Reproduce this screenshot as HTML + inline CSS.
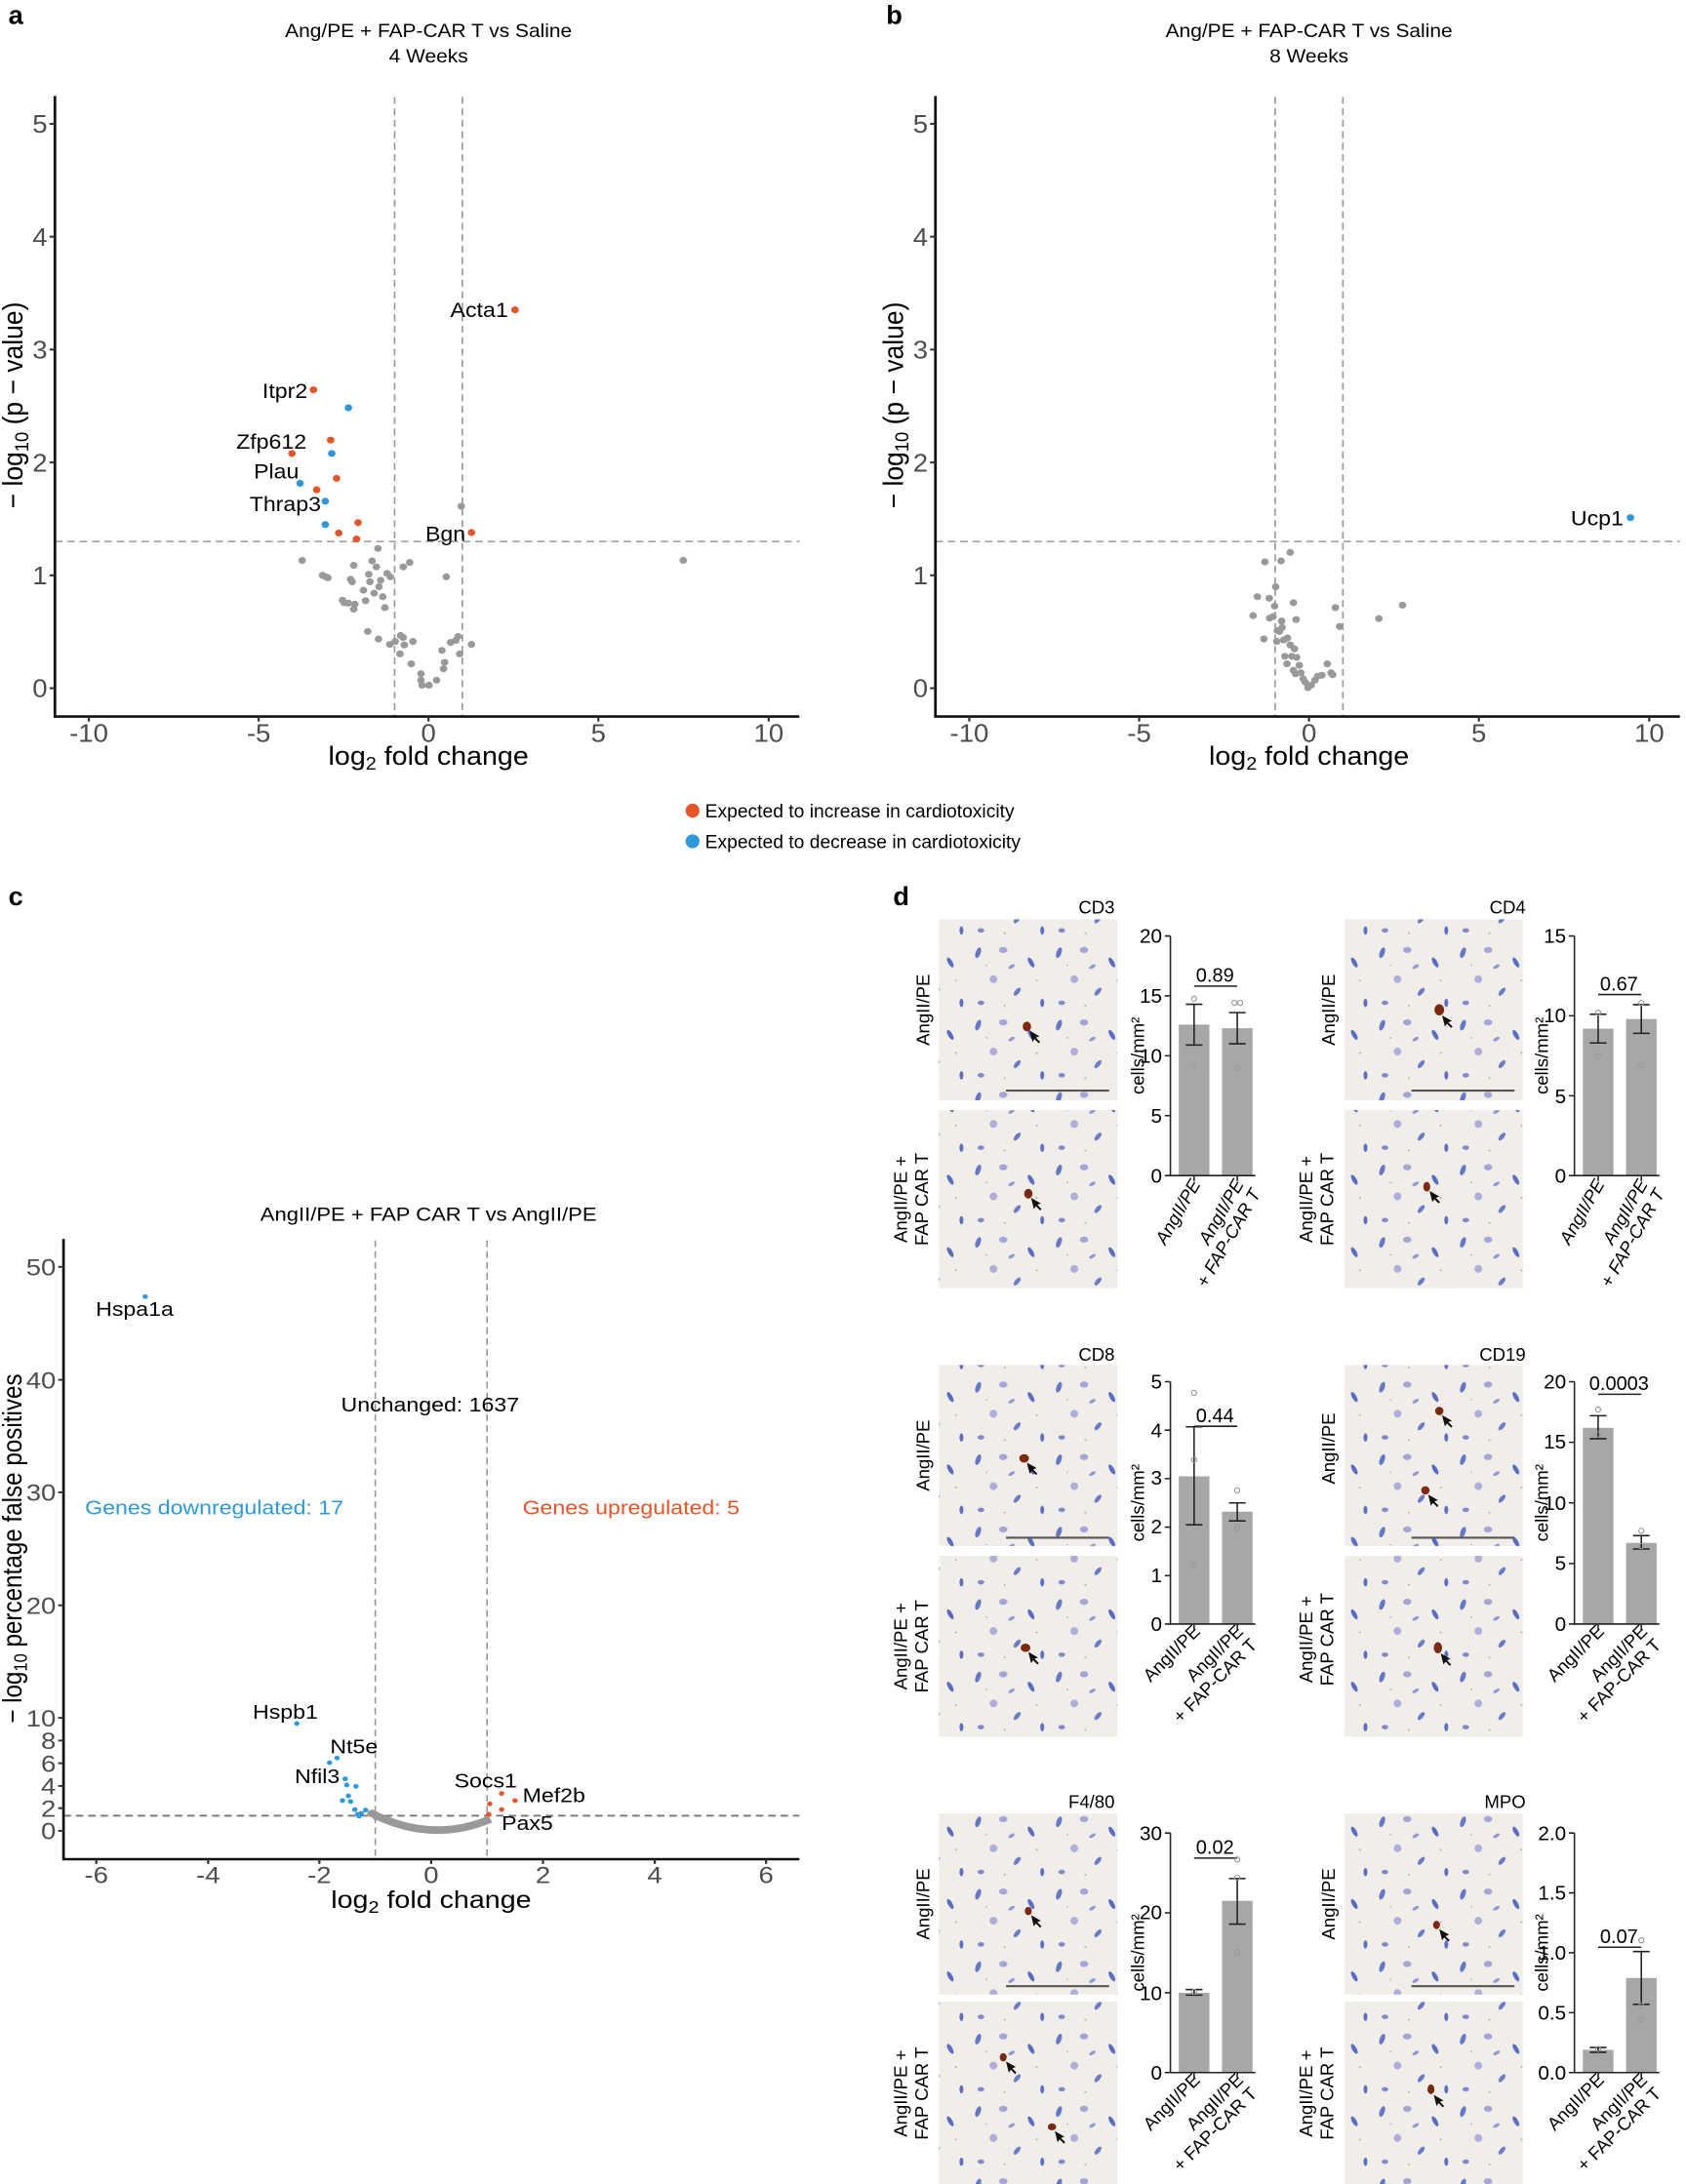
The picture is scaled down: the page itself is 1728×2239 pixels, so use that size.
<!DOCTYPE html>
<html><head><meta charset="utf-8">
<style>
html,body{margin:0;padding:0;background:#fff}
svg{display:block}
text{font-family:"Liberation Sans",sans-serif}
</style></head>
<body>
<svg width="1728" height="2239" viewBox="0 0 1210 1568" xmlns="http://www.w3.org/2000/svg">
<defs>
<pattern id="hp" width="58" height="52" patternUnits="userSpaceOnUse">
<rect width="58" height="52" fill="#f1eeea"/>
<ellipse cx="6" cy="8" rx="1.8" ry="4" fill="#6677c4" transform="rotate(20 6 8)"/>
<ellipse cx="24" cy="6" rx="3" ry="2.2" fill="#a3a6d4"/>
<ellipse cx="44" cy="15" rx="1.6" ry="4" fill="#5a6cbf" transform="rotate(-30 44 15)"/>
<ellipse cx="17" cy="27" rx="2.8" ry="2.8" fill="#aeaed8"/>
<ellipse cx="34" cy="36" rx="1.6" ry="3.5" fill="#6a7ac6" transform="rotate(40 34 36)"/>
<ellipse cx="8" cy="44" rx="2.4" ry="1.6" fill="#8088c8"/>
<ellipse cx="52" cy="44" rx="1.4" ry="3" fill="#5d6ebf"/>
<ellipse cx="30" cy="18" rx="1.2" ry="2.6" fill="#8f98d0" transform="rotate(60 30 18)"/>
<circle cx="25" cy="46" r="0.7" fill="#c3aaa0"/>
<circle cx="48" cy="28" r="0.7" fill="#c3aaa0"/>
<circle cx="12" cy="17" r="0.6" fill="#c3aaa0"/>
</pattern>
</defs>

<!-- Panel a -->
<text x="6" y="17" font-size="19" font-weight="bold">a</text>
<g transform="matrix(0.3858,0,0,0.357,0,0)">
 <text x="797" y="75" font-size="38" text-anchor="middle">Ang/PE + FAP-CAR T vs Saline</text>
 <text x="797" y="126" font-size="38" text-anchor="middle">4 Weeks</text>
 <g stroke="#999" stroke-width="3" stroke-dasharray="14,9" fill="none">
  <line x1="734" y1="195" x2="734" y2="1441"/><line x1="860" y1="195" x2="860" y2="1441"/>
  <line x1="102" y1="1089" x2="1487" y2="1089"/>
 </g>
 <path d="M102 193 V1441 H1487" fill="none" stroke="#111" stroke-width="5"/>
 <g stroke="#333" stroke-width="4">
  <line x1="92" y1="1384" x2="102" y2="1384"/><line x1="92" y1="1157" x2="102" y2="1157"/><line x1="92" y1="930" x2="102" y2="930"/><line x1="92" y1="703" x2="102" y2="703"/><line x1="92" y1="476" x2="102" y2="476"/><line x1="92" y1="249" x2="102" y2="249"/>
  <line x1="165" y1="1441" x2="165" y2="1451"/><line x1="481" y1="1441" x2="481" y2="1451"/><line x1="797" y1="1441" x2="797" y2="1451"/><line x1="1113" y1="1441" x2="1113" y2="1451"/><line x1="1430" y1="1441" x2="1430" y2="1451"/>
 </g>
 <g font-size="50" fill="#4d4d4d" text-anchor="end">
  <text x="88" y="1402">0</text><text x="88" y="1175">1</text><text x="88" y="948">2</text><text x="88" y="721">3</text><text x="88" y="494">4</text><text x="88" y="267">5</text>
 </g>
 <g font-size="50" fill="#4d4d4d" text-anchor="middle">
  <text x="165" y="1492">-10</text><text x="481" y="1492">-5</text><text x="797" y="1492">0</text><text x="1113" y="1492">5</text><text x="1430" y="1492">10</text>
 </g>
 <text x="797" y="1538" font-size="52" text-anchor="middle">log<tspan font-size="36" dy="10">2</tspan><tspan dy="-10"> fold change</tspan></text>
 <text transform="translate(42,815) rotate(-90)" font-size="52" text-anchor="middle">− log<tspan font-size="36" dy="10">10</tspan><tspan dy="-10"> (p − value)</tspan></text>
 <g fill="#999">
  <circle cx="562" cy="1127" r="7"/><circle cx="600" cy="1157" r="7"/><circle cx="606" cy="1160" r="7"/><circle cx="610" cy="1162" r="7"/><circle cx="637" cy="1207" r="7"/><circle cx="640" cy="1212" r="7"/><circle cx="648" cy="1213" r="7"/><circle cx="658" cy="1137" r="7"/><circle cx="652" cy="1165" r="7"/><circle cx="655" cy="1170" r="7"/><circle cx="660" cy="1215" r="7"/><circle cx="658" cy="1225" r="7"/><circle cx="676" cy="1187" r="7"/><circle cx="680" cy="1208" r="7"/><circle cx="684" cy="1270" r="7"/><circle cx="686" cy="1155" r="7"/><circle cx="688" cy="1170" r="7"/><circle cx="692" cy="1128" r="7"/><circle cx="696" cy="1193" r="7"/><circle cx="700" cy="1140" r="7"/><circle cx="703" cy="1103" r="7"/><circle cx="705" cy="1180" r="7"/><circle cx="708" cy="1167" r="7"/><circle cx="712" cy="1200" r="7"/><circle cx="716" cy="1222" r="7"/><circle cx="720" cy="1153" r="7"/><circle cx="726" cy="1160" r="7"/><circle cx="704" cy="1285" r="7"/><circle cx="725" cy="1296" r="7"/><circle cx="735" cy="1290" r="7"/><circle cx="745" cy="1278" r="7"/><circle cx="750" cy="1282" r="7"/><circle cx="752" cy="1297" r="7"/><circle cx="744" cy="1315" r="7"/><circle cx="750" cy="1140" r="7"/><circle cx="762" cy="1131" r="7"/><circle cx="768" cy="1290" r="7"/><circle cx="765" cy="1335" r="7"/><circle cx="783" cy="1355" r="7"/><circle cx="783" cy="1368" r="7"/><circle cx="785" cy="1378" r="7"/><circle cx="798" cy="1378" r="7"/><circle cx="812" cy="1368" r="7"/><circle cx="822" cy="1308" r="7"/><circle cx="827" cy="1332" r="7"/><circle cx="825" cy="1345" r="7"/><circle cx="838" cy="1292" r="7"/><circle cx="848" cy="1288" r="7"/><circle cx="852" cy="1280" r="7"/><circle cx="855" cy="1315" r="7"/><circle cx="858" cy="1018" r="7"/><circle cx="830" cy="1160" r="7"/><circle cx="877" cy="1296" r="7"/><circle cx="1271" cy="1127" r="7"/>
 </g>
 <g fill="#e5552a">
  <circle cx="958" cy="623" r="7"/><circle cx="583" cy="784" r="7"/><circle cx="615" cy="885" r="7"/><circle cx="543" cy="912" r="7"/><circle cx="626" cy="962" r="7"/><circle cx="589" cy="985" r="7"/><circle cx="666" cy="1051" r="7"/><circle cx="630" cy="1072" r="7"/><circle cx="663" cy="1084" r="7"/><circle cx="877" cy="1071" r="7"/>
 </g>
 <g fill="#2f98d8">
  <circle cx="648" cy="820" r="7"/><circle cx="617" cy="912" r="7"/><circle cx="558" cy="972" r="7"/><circle cx="605" cy="1008" r="7"/><circle cx="605" cy="1055" r="7"/>
 </g>
 <g font-size="42" text-anchor="end">
  <text x="945" y="638">Acta1</text><text x="572" y="800">Itpr2</text><text x="570" y="902">Zfp612</text><text x="556" y="962">Plau</text><text x="597" y="1028">Thrap3</text><text x="866" y="1088">Bgn</text>
 </g>
</g>

<!-- Panel b -->
<text x="636" y="17" font-size="19" font-weight="bold">b</text>
<g transform="translate(632,0) matrix(0.3858,0,0,0.357,0,0)">
 <text x="797" y="75" font-size="38" text-anchor="middle">Ang/PE + FAP-CAR T vs Saline</text>
 <text x="797" y="126" font-size="38" text-anchor="middle">8 Weeks</text>
 <g stroke="#999" stroke-width="3" stroke-dasharray="14,9" fill="none">
  <line x1="734" y1="195" x2="734" y2="1441"/><line x1="860" y1="195" x2="860" y2="1441"/>
  <line x1="102" y1="1089" x2="1487" y2="1089"/>
 </g>
 <path d="M102 193 V1441 H1487" fill="none" stroke="#111" stroke-width="5"/>
 <g stroke="#333" stroke-width="4">
  <line x1="92" y1="1384" x2="102" y2="1384"/><line x1="92" y1="1157" x2="102" y2="1157"/><line x1="92" y1="930" x2="102" y2="930"/><line x1="92" y1="703" x2="102" y2="703"/><line x1="92" y1="476" x2="102" y2="476"/><line x1="92" y1="249" x2="102" y2="249"/>
  <line x1="165" y1="1441" x2="165" y2="1451"/><line x1="481" y1="1441" x2="481" y2="1451"/><line x1="797" y1="1441" x2="797" y2="1451"/><line x1="1113" y1="1441" x2="1113" y2="1451"/><line x1="1430" y1="1441" x2="1430" y2="1451"/>
 </g>
 <g font-size="50" fill="#4d4d4d" text-anchor="end">
  <text x="88" y="1402">0</text><text x="88" y="1175">1</text><text x="88" y="948">2</text><text x="88" y="721">3</text><text x="88" y="494">4</text><text x="88" y="267">5</text>
 </g>
 <g font-size="50" fill="#4d4d4d" text-anchor="middle">
  <text x="165" y="1492">-10</text><text x="481" y="1492">-5</text><text x="797" y="1492">0</text><text x="1113" y="1492">5</text><text x="1430" y="1492">10</text>
 </g>
 <text x="797" y="1538" font-size="52" text-anchor="middle">log<tspan font-size="36" dy="10">2</tspan><tspan dy="-10"> fold change</tspan></text>
 <text transform="translate(42,815) rotate(-90)" font-size="52" text-anchor="middle">− log<tspan font-size="36" dy="10">10</tspan><tspan dy="-10"> (p − value)</tspan></text>
 <g fill="#999">
  <circle cx="715" cy="1130" r="7"/><circle cx="745" cy="1128" r="7"/><circle cx="762" cy="1111" r="7"/><circle cx="735" cy="1180" r="7"/><circle cx="701" cy="1200" r="7"/><circle cx="723" cy="1203" r="7"/><circle cx="733" cy="1219" r="7"/><circle cx="768" cy="1212" r="7"/><circle cx="693" cy="1238" r="7"/><circle cx="724" cy="1243" r="7"/><circle cx="730" cy="1240" r="7"/><circle cx="746" cy="1249" r="7"/><circle cx="773" cy="1246" r="7"/><circle cx="713" cy="1285" r="7"/><circle cx="738" cy="1268" r="7"/><circle cx="742" cy="1270" r="7"/><circle cx="747" cy="1262" r="7"/><circle cx="750" cy="1287" r="7"/><circle cx="757" cy="1283" r="7"/><circle cx="737" cy="1290" r="7"/><circle cx="762" cy="1297" r="7"/><circle cx="770" cy="1305" r="7"/><circle cx="752" cy="1320" r="7"/><circle cx="765" cy="1320" r="7"/><circle cx="774" cy="1322" r="7"/><circle cx="756" cy="1335" r="7"/><circle cx="779" cy="1338" r="7"/><circle cx="768" cy="1348" r="7"/><circle cx="772" cy="1355" r="7"/><circle cx="782" cy="1353" r="7"/><circle cx="786" cy="1365" r="7"/><circle cx="790" cy="1372" r="7"/><circle cx="795" cy="1383" r="7"/><circle cx="801" cy="1378" r="7"/><circle cx="808" cy="1368" r="7"/><circle cx="813" cy="1360" r="7"/><circle cx="821" cy="1358" r="7"/><circle cx="831" cy="1335" r="7"/><circle cx="838" cy="1353" r="7"/><circle cx="841" cy="1357" r="7"/><circle cx="846" cy="1222" r="7"/><circle cx="854" cy="1260" r="7"/><circle cx="927" cy="1244" r="7"/><circle cx="971" cy="1217" r="7"/>
 </g>
 <circle cx="1395" cy="1041" r="7" fill="#2f98d8"/>
 <text x="1382" y="1056" font-size="42" text-anchor="end">Ucp1</text>
</g>

<!-- Legend -->
<circle cx="497" cy="582" r="5" fill="#e5552a"/>
<text x="506" y="587" font-size="13.5">Expected to increase in cardiotoxicity</text>
<circle cx="497" cy="604" r="5" fill="#2f98d8"/>
<text x="506" y="609" font-size="13.5">Expected to decrease in cardiotoxicity</text>

<!-- Panel c -->
<text x="6" y="650" font-size="19" font-weight="bold">c</text>
<g transform="matrix(0.3858,0,0,0.3394,0,840.3)">
 <text x="797" y="106" font-size="40" text-anchor="middle">AngII/PE + FAP CAR T vs AngII/PE</text>
 <g stroke="#999" stroke-width="3" stroke-dasharray="14,9" fill="none">
  <line x1="698" y1="148" x2="698" y2="1457"/><line x1="906" y1="148" x2="906" y2="1457"/>
  <line x1="118" y1="1365" x2="1487" y2="1365" stroke="#777" stroke-width="4"/>
 </g>
 <path d="M118 145 V1457 H1487" fill="none" stroke="#111" stroke-width="5"/>
 <g stroke="#333" stroke-width="4">
  <line x1="108" y1="1397" x2="118" y2="1397"/><line x1="108" y1="1349" x2="118" y2="1349"/><line x1="108" y1="1302" x2="118" y2="1302"/><line x1="108" y1="1254" x2="118" y2="1254"/><line x1="108" y1="1206" x2="118" y2="1206"/><line x1="108" y1="1158" x2="118" y2="1158"/><line x1="108" y1="920" x2="118" y2="920"/><line x1="108" y1="681" x2="118" y2="681"/><line x1="108" y1="443" x2="118" y2="443"/><line x1="108" y1="204" x2="118" y2="204"/>
  <line x1="179" y1="1457" x2="179" y2="1467"/><line x1="387" y1="1457" x2="387" y2="1467"/><line x1="594" y1="1457" x2="594" y2="1467"/><line x1="802" y1="1457" x2="802" y2="1467"/><line x1="1010" y1="1457" x2="1010" y2="1467"/><line x1="1218" y1="1457" x2="1218" y2="1467"/><line x1="1425" y1="1457" x2="1425" y2="1467"/>
 </g>
 <g font-size="50" fill="#4d4d4d" text-anchor="end">
  <text x="104" y="1415">0</text><text x="104" y="1367">2</text><text x="104" y="1320">4</text><text x="104" y="1272">6</text><text x="104" y="1224">8</text><text x="104" y="1176">10</text><text x="104" y="938">20</text><text x="104" y="699">30</text><text x="104" y="461">40</text><text x="104" y="222">50</text>
 </g>
 <g font-size="50" fill="#4d4d4d" text-anchor="middle">
  <text x="179" y="1508">-6</text><text x="387" y="1508">-4</text><text x="594" y="1508">-2</text><text x="802" y="1508">0</text><text x="1010" y="1508">2</text><text x="1218" y="1508">4</text><text x="1425" y="1508">6</text>
 </g>
 <text x="802" y="1560" font-size="52" text-anchor="middle">log<tspan font-size="36" dy="10">2</tspan><tspan dy="-10"> fold change</tspan></text>
 <text transform="translate(40,800) rotate(-90)" font-size="50" text-anchor="middle">− log<tspan font-size="34" dy="10">10</tspan><tspan dy="-10"> percentage false positives</tspan></text>
 <text x="800" y="510" font-size="42" text-anchor="middle">Unchanged: 1637</text>
 <text x="158" y="728" font-size="42" fill="#2f98d8">Genes downregulated: 17</text>
 <text x="972" y="728" font-size="42" fill="#e5552a">Genes upregulated: 5</text>
 <path d="M688 1358 Q802 1425 912 1372" fill="none" stroke="#999" stroke-width="16"/>
 <g fill="#999"><circle cx="690" cy="1360" r="7"/><circle cx="905" cy="1375" r="7"/><circle cx="700" cy="1368" r="7"/></g>
 <g fill="#2f98d8">
  <circle cx="270" cy="267" r="5"/><circle cx="552" cy="1170" r="5"/><circle cx="627" cy="1243" r="5"/><circle cx="613" cy="1253" r="5"/><circle cx="642" cy="1287" r="5"/><circle cx="645" cy="1300" r="5"/><circle cx="662" cy="1303" r="5"/><circle cx="648" cy="1323" r="5"/><circle cx="637" cy="1333" r="5"/><circle cx="652" cy="1335" r="5"/><circle cx="660" cy="1352" r="5"/><circle cx="665" cy="1362" r="5"/><circle cx="672" cy="1360" r="5"/><circle cx="680" cy="1353" r="5"/><circle cx="668" cy="1366" r="5"/>
 </g>
 <g fill="#e5552a">
  <circle cx="911" cy="1340" r="5"/><circle cx="933" cy="1318" r="5"/><circle cx="958" cy="1333" r="5"/><circle cx="933" cy="1352" r="5"/><circle cx="909" cy="1362" r="5"/>
 </g>
 <g font-size="42">
  <text x="178" y="308">Hspa1a</text><text x="470" y="1160">Hspb1</text><text x="614" y="1233">Nt5e</text><text x="548" y="1296">Nfil3</text><text x="845" y="1305">Socs1</text><text x="972" y="1336">Mef2b</text><text x="933" y="1395">Pax5</text>
 </g>
</g>

<!-- Panel d -->
<text x="641" y="650" font-size="19" font-weight="bold">d</text>
<g font-size="13">
 <text x="800" y="656" text-anchor="end">CD3</text><text x="1095" y="656" text-anchor="end">CD4</text>
 <text x="800" y="977" text-anchor="end">CD8</text><text x="1095" y="977" text-anchor="end">CD19</text>
 <text x="800" y="1298" text-anchor="end">F4/80</text><text x="1095" y="1298" text-anchor="end">MPO</text>
</g>
<g fill="url(#hp)">
 <rect x="674" y="660" width="128" height="130"/><rect x="674" y="797" width="128" height="128"/>
 <rect x="965" y="660" width="128" height="130"/><rect x="965" y="797" width="128" height="128"/>
 <rect x="674" y="980" width="128" height="130"/><rect x="674" y="1117" width="128" height="130"/>
 <rect x="965" y="980" width="128" height="130"/><rect x="965" y="1117" width="128" height="130"/>
 <rect x="674" y="1302" width="128" height="130"/><rect x="674" y="1437" width="128" height="131"/>
 <rect x="965" y="1302" width="128" height="130"/><rect x="965" y="1437" width="128" height="131"/>
</g>
<g stroke="#555" stroke-width="1.5">
 <line x1="722" y1="783" x2="796" y2="783"/><line x1="1013" y1="783" x2="1087" y2="783"/>
 <line x1="722" y1="1104" x2="796" y2="1104"/><line x1="1013" y1="1104" x2="1087" y2="1104"/>
 <line x1="722" y1="1426" x2="796" y2="1426"/><line x1="1013" y1="1426" x2="1087" y2="1426"/>
</g>
<g fill="#7a2a12">
 <ellipse cx="737" cy="737" rx="3" ry="3.5"/><ellipse cx="738" cy="857" rx="3" ry="3.5"/>
 <ellipse cx="1033" cy="725" rx="3.5" ry="4"/><ellipse cx="1024" cy="852" rx="2.5" ry="3.5"/>
 <ellipse cx="735" cy="1047" rx="3.5" ry="3"/><ellipse cx="736" cy="1183" rx="3.5" ry="3"/>
 <ellipse cx="1033" cy="1013" rx="3" ry="3"/><ellipse cx="1023" cy="1070" rx="3" ry="3"/><ellipse cx="1032" cy="1183" rx="3" ry="4"/>
 <ellipse cx="738" cy="1372" rx="2.5" ry="3"/><ellipse cx="720" cy="1477" rx="2.5" ry="3"/><ellipse cx="755" cy="1527" rx="3" ry="2.5"/>
 <ellipse cx="1031" cy="1382" rx="2.5" ry="3"/><ellipse cx="1027" cy="1500" rx="2.5" ry="3.5"/>
</g>
<g fill="#111">
 <path d="M739 740 l2 8 l1.5 -2 l3 3 l1 -1 l-3 -3 l2.5 -1 z"/><path d="M740 860 l2 8 l1.5 -2 l3 3 l1 -1 l-3 -3 l2.5 -1 z"/>
 <path d="M1035 729 l2 8 l1.5 -2 l3 3 l1 -1 l-3 -3 l2.5 -1 z"/><path d="M1026 855 l2 8 l1.5 -2 l3 3 l1 -1 l-3 -3 l2.5 -1 z"/>
 <path d="M737 1050 l2 8 l1.5 -2 l3 3 l1 -1 l-3 -3 l2.5 -1 z"/><path d="M738 1186 l2 8 l1.5 -2 l3 3 l1 -1 l-3 -3 l2.5 -1 z"/>
 <path d="M1035 1016 l2 8 l1.5 -2 l3 3 l1 -1 l-3 -3 l2.5 -1 z"/><path d="M1025 1073 l2 8 l1.5 -2 l3 3 l1 -1 l-3 -3 l2.5 -1 z"/><path d="M1034 1187 l2 8 l1.5 -2 l3 3 l1 -1 l-3 -3 l2.5 -1 z"/>
 <path d="M740 1375 l2 8 l1.5 -2 l3 3 l1 -1 l-3 -3 l2.5 -1 z"/><path d="M722 1480 l2 8 l1.5 -2 l3 3 l1 -1 l-3 -3 l2.5 -1 z"/><path d="M757 1530 l2 8 l1.5 -2 l3 3 l1 -1 l-3 -3 l2.5 -1 z"/>
 <path d="M1033 1385 l2 8 l1.5 -2 l3 3 l1 -1 l-3 -3 l2.5 -1 z"/><path d="M1029 1504 l2 8 l1.5 -2 l3 3 l1 -1 l-3 -3 l2.5 -1 z"/>
</g>
<g font-size="13">
 <text transform="translate(667,725) rotate(-90)" text-anchor="middle">AngII/PE</text>
 <text transform="translate(651,861) rotate(-90)" text-anchor="middle">AngII/PE +</text>
 <text transform="translate(666,861) rotate(-90)" text-anchor="middle">FAP CAR T</text>
 <text transform="translate(958,725) rotate(-90)" text-anchor="middle">AngII/PE</text>
 <text transform="translate(942,861) rotate(-90)" text-anchor="middle">AngII/PE +</text>
 <text transform="translate(957,861) rotate(-90)" text-anchor="middle">FAP CAR T</text>
 <text transform="translate(667,1045) rotate(-90)" text-anchor="middle">AngII/PE</text>
 <text transform="translate(651,1182) rotate(-90)" text-anchor="middle">AngII/PE +</text>
 <text transform="translate(666,1182) rotate(-90)" text-anchor="middle">FAP CAR T</text>
 <text transform="translate(958,1040) rotate(-90)" text-anchor="middle">AngII/PE</text>
 <text transform="translate(942,1177) rotate(-90)" text-anchor="middle">AngII/PE +</text>
 <text transform="translate(957,1177) rotate(-90)" text-anchor="middle">FAP CAR T</text>
 <text transform="translate(667,1367) rotate(-90)" text-anchor="middle">AngII/PE</text>
 <text transform="translate(651,1503) rotate(-90)" text-anchor="middle">AngII/PE +</text>
 <text transform="translate(666,1503) rotate(-90)" text-anchor="middle">FAP CAR T</text>
 <text transform="translate(958,1367) rotate(-90)" text-anchor="middle">AngII/PE</text>
 <text transform="translate(942,1503) rotate(-90)" text-anchor="middle">AngII/PE +</text>
 <text transform="translate(957,1503) rotate(-90)" text-anchor="middle">FAP CAR T</text>
</g>

<g fill="#a7a7a9">
 <rect x="846" y="735.6" width="22" height="108.4"/><rect x="877" y="738.2" width="22" height="105.8"/>
 <rect x="1136" y="738.5" width="22" height="105.5"/><rect x="1167" y="731.6" width="22" height="112.4"/>
 <rect x="846" y="1059.9" width="22" height="106.1"/><rect x="877" y="1085.3" width="22" height="80.7"/>
 <rect x="1136" y="1025.1" width="22" height="140.9"/><rect x="1167" y="1107.7" width="22" height="58.3"/>
 <rect x="846" y="1430.7" width="22" height="57.3"/><rect x="877" y="1364.7" width="22" height="123.3"/>
 <rect x="1136" y="1471.7" width="22" height="16.3"/><rect x="1167" y="1420.1" width="22" height="67.9"/>
</g>
<g stroke="#222" stroke-width="1.1" fill="none">
 <path d="M840 672 V844 H901"/><path d="M1130 672 V844 H1191"/>
 <path d="M840 992 V1166 H901"/><path d="M1130 992 V1166 H1191"/>
 <path d="M840 1316 V1488 H901"/><path d="M1130 1316 V1488 H1191"/>
 <path d="M836 672h4M836 715h4M836 758h4M836 801h4M836 844h4"/>
 <path d="M1126 672h4M1126 729.3h4M1126 786.7h4M1126 844h4"/>
 <path d="M836 992h4M836 1026.8h4M836 1061.6h4M836 1096.4h4M836 1131.2h4M836 1166h4"/>
 <path d="M1126 992h4M1126 1035.5h4M1126 1079h4M1126 1122.5h4M1126 1166h4"/>
 <path d="M836 1316h4M836 1373.3h4M836 1430.7h4M836 1488h4"/>
 <path d="M1126 1316h4M1126 1359h4M1126 1402h4M1126 1445h4M1126 1488h4"/>
 <path d="M857 844v4M888 844v4M1147 844v4M1178 844v4M857 1166v4M888 1166v4M1147 1166v4M1178 1166v4M857 1488v4M888 1488v4M1147 1488v4M1178 1488v4"/>
 <path d="M857 750.3V721M851 750.3h12M851 721h12M888 749.4V727M882 749.4h12M882 727h12"/>
 <path d="M1147 748.8V728.2M1141 748.8h12M1141 728.2h12M1178 741.9V721.3M1172 741.9h12M1172 721.3h12"/>
 <path d="M857 1094.7V1024.4M851 1094.7h12M851 1024.4h12M888 1091.9V1079M882 1091.9h12M882 1079h12"/>
 <path d="M1147 1032.9V1016.4M1141 1032.9h12M1141 1016.4h12M1178 1112.1V1102.5M1172 1112.1h12M1172 1102.5h12"/>
 <path d="M857 1432.4V1428.4M851 1432.4h12M851 1428.4h12M888 1381.4V1348.7M882 1381.4h12M882 1348.7h12"/>
 <path d="M1147 1473.4V1470M1141 1473.4h12M1141 1470h12M1178 1439V1401.1M1172 1439h12M1172 1401.1h12"/>
 <path d="M857 708H888M1147 714H1178M857 1024H888M1147 1001H1178M857 1334H888M1147 1398H1178"/>
</g>
<g fill="none" stroke="#999" stroke-width="0.8">
 <circle cx="857" cy="717" r="1.8"/><circle cx="857" cy="765" r="1.8"/><circle cx="886" cy="720" r="1.8"/><circle cx="890" cy="720" r="1.8"/><circle cx="888" cy="767" r="1.8"/>
 <circle cx="1147" cy="727" r="1.8"/><circle cx="1147" cy="758" r="1.8"/><circle cx="1178" cy="720" r="1.8"/><circle cx="1178" cy="765" r="1.8"/>
 <circle cx="857" cy="1000" r="1.8"/><circle cx="857" cy="1048" r="1.8"/><circle cx="857" cy="1123" r="1.8"/><circle cx="888" cy="1070" r="1.8"/><circle cx="888" cy="1097" r="1.8"/>
 <circle cx="1147" cy="1012" r="1.8"/><circle cx="1147" cy="1030" r="1.8"/><circle cx="1178" cy="1099" r="1.8"/><circle cx="1178" cy="1110" r="1.8"/>
 <circle cx="857" cy="1430" r="1.8"/><circle cx="888" cy="1335" r="1.8"/><circle cx="888" cy="1348" r="1.8"/><circle cx="888" cy="1402" r="1.8"/>
 <circle cx="1147" cy="1471" r="1.8"/><circle cx="1178" cy="1393" r="1.8"/><circle cx="1178" cy="1440" r="1.8"/><circle cx="1178" cy="1450" r="1.8"/>
</g>
<g font-size="14.5" text-anchor="end">
 <text x="834" y="677">20</text><text x="834" y="720">15</text><text x="834" y="763">10</text><text x="834" y="806">5</text><text x="834" y="849">0</text>
 <text x="1124" y="677">15</text><text x="1124" y="734">10</text><text x="1124" y="792">5</text><text x="1124" y="849">0</text>
 <text x="834" y="997">5</text><text x="834" y="1032">4</text><text x="834" y="1066">3</text><text x="834" y="1101">2</text><text x="834" y="1136">1</text><text x="834" y="1171">0</text>
 <text x="1124" y="997">20</text><text x="1124" y="1040">15</text><text x="1124" y="1084">10</text><text x="1124" y="1127">5</text><text x="1124" y="1171">0</text>
 <text x="834" y="1321">30</text><text x="834" y="1378">20</text><text x="834" y="1436">10</text><text x="834" y="1493">0</text>
 <text x="1124" y="1321">2.0</text><text x="1124" y="1364">1.5</text><text x="1124" y="1407">1.0</text><text x="1124" y="1450">0.5</text><text x="1124" y="1493">0.0</text>
</g>
<g font-size="14" text-anchor="middle">
 <text x="872" y="705">0.89</text><text x="1162" y="711">0.67</text>
 <text x="872" y="1021">0.44</text><text x="1162" y="998">0.0003</text>
 <text x="872" y="1331">0.02</text><text x="1162" y="1395">0.07</text>
</g>
<g font-size="13" text-anchor="middle">
 <text transform="translate(821,758) rotate(-90)">cells/mm²</text>
 <text transform="translate(1111,758) rotate(-90)">cells/mm²</text>
 <text transform="translate(821,1079) rotate(-90)">cells/mm²</text>
 <text transform="translate(1111,1079) rotate(-90)">cells/mm²</text>
 <text transform="translate(821,1402) rotate(-90)">cells/mm²</text>
 <text transform="translate(1111,1402) rotate(-90)">cells/mm²</text>
</g>
<g font-size="13" font-style="italic" text-anchor="end">
 <text transform="translate(862,850) rotate(-60)">AngII/PE</text>
 <text transform="translate(893,850) rotate(-60)">AngII/PE<tspan x="0" dy="14">+ FAP-CAR T</tspan></text>
 <text transform="translate(1152,850) rotate(-60)">AngII/PE</text>
 <text transform="translate(1183,850) rotate(-60)">AngII/PE<tspan x="0" dy="14">+ FAP-CAR T</tspan></text>
</g>
<g font-size="13" text-anchor="end">
 <text transform="translate(862,1172) rotate(-45)">AngII/PE</text>
 <text transform="translate(893,1172) rotate(-45)">AngII/PE<tspan x="0" dy="14">+ FAP-CAR T</tspan></text>
 <text transform="translate(1152,1172) rotate(-45)">AngII/PE</text>
 <text transform="translate(1183,1172) rotate(-45)">AngII/PE<tspan x="0" dy="14">+ FAP-CAR T</tspan></text>
 <text transform="translate(862,1494) rotate(-45)">AngII/PE</text>
 <text transform="translate(893,1494) rotate(-45)">AngII/PE<tspan x="0" dy="14">+ FAP-CAR T</tspan></text>
 <text transform="translate(1152,1494) rotate(-45)">AngII/PE</text>
 <text transform="translate(1183,1494) rotate(-45)">AngII/PE<tspan x="0" dy="14">+ FAP-CAR T</tspan></text>
</g>
</svg>
</body></html>
